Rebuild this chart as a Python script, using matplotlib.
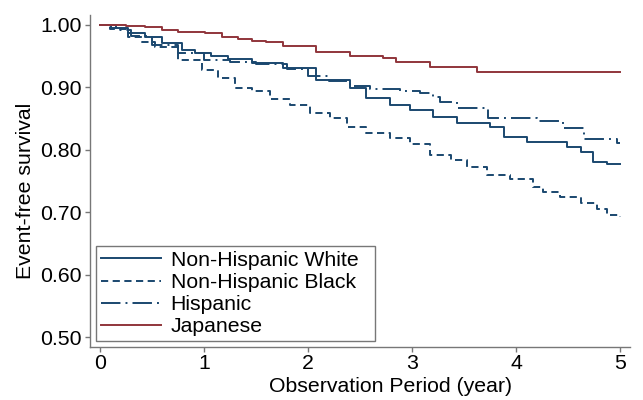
# module imports
import matplotlib
matplotlib.use("Agg")
import matplotlib.pyplot as plt

# font
plt.rcParams["font.family"] = ["Liberation Sans", "DejaVu Sans"]

# data (step points)
white_t = [0, 0.11, 0.27, 0.43, 0.6, 0.79, 0.91, 1.07, 1.23, 1.46, 1.76, 2.08, 2.4, 2.56,
           2.79, 2.98, 3.2, 3.43, 3.75, 3.88, 4.1, 4.49, 4.62, 4.74, 4.87, 5.0]
white_s = [1.0, 0.995, 0.987, 0.981, 0.971, 0.960, 0.955, 0.950, 0.945, 0.939, 0.931, 0.912,
           0.899, 0.883, 0.872, 0.864, 0.853, 0.843, 0.836, 0.821, 0.812, 0.805, 0.797, 0.780,
           0.778, 0.777]

black_t = [0, 0.1, 0.27, 0.4, 0.53, 0.75, 0.98, 1.13, 1.3, 1.46, 1.63, 1.83, 2.02, 2.21,
           2.37, 2.56, 2.79, 2.98, 3.17, 3.37, 3.53, 3.72, 3.94, 4.16, 4.26, 4.42, 4.62,
           4.78, 4.87, 5.0]
black_s = [1.0, 0.993, 0.981, 0.973, 0.965, 0.944, 0.928, 0.915, 0.899, 0.894, 0.881, 0.872,
           0.859, 0.851, 0.837, 0.827, 0.819, 0.809, 0.792, 0.784, 0.773, 0.760, 0.753,
           0.741, 0.733, 0.724, 0.715, 0.705, 0.695, 0.692]

hisp_t = [0, 0.15, 0.3, 0.5, 0.75, 1.0, 1.25, 1.5, 1.8, 2.0, 2.2, 2.4, 2.6, 2.88, 3.08,
          3.2, 3.27, 3.43, 3.73, 4.2, 4.45, 4.65, 4.97, 5.0]
hisp_s = [1.0, 0.992, 0.983, 0.968, 0.955, 0.944, 0.940, 0.938, 0.930, 0.918, 0.910, 0.902,
          0.897, 0.894, 0.891, 0.885, 0.877, 0.867, 0.851, 0.846, 0.835, 0.817, 0.811, 0.811]

jap_t = [0, 0.25, 0.43, 0.6, 0.75, 1.01, 1.17, 1.33, 1.46, 1.6, 1.76, 2.08, 2.4, 2.72,
         2.85, 3.17, 3.62, 5.0]
jap_s = [1.0, 0.999, 0.997, 0.992, 0.989, 0.987, 0.981, 0.978, 0.975, 0.973, 0.966, 0.957,
         0.950, 0.947, 0.940, 0.933, 0.925, 0.925]

labels = ["Non-Hispanic White", "Non-Hispanic Black", "Hispanic", "Japanese"]
x_ticks = [0, 1, 2, 3, 4, 5]
y_ticks = [0.50, 0.60, 0.70, 0.80, 0.90, 1.00]

# colours
NAVY = "#1a476f"
MAROON = "#90353b"
GRAY = "#777777"
FS = 15.3

# plot
fig = plt.figure(figsize=(6.43, 4.0), dpi=100)
ax = fig.add_axes([0.14, 0.1325, 0.84, 0.83])

ax.step(white_t, white_s, where="post", color=NAVY, lw=1.4, label=labels[0])
ax.step(black_t, black_s, where="post", color=NAVY, lw=1.4,
        linestyle=(0, (3.7, 2.3)), label=labels[1])
ax.step(hisp_t, hisp_s, where="post", color=NAVY, lw=1.4,
        linestyle=(0, (10, 2.6, 1.0, 2.6)), label=labels[2])
ax.step(jap_t, jap_s, where="post", color=MAROON, lw=1.4, label=labels[3])

# axes styling
ax.set_xlim(-0.096, 5.096)
ax.set_ylim(0.484, 1.016)
ax.set_xticks(x_ticks)
ax.set_yticks(y_ticks)
ax.set_yticklabels([f"{v:.2f}" for v in y_ticks])
for side in ["top", "right"]:
    ax.spines[side].set_visible(False)
for side in ["left", "bottom"]:
    ax.spines[side].set_color(GRAY)
    ax.spines[side].set_linewidth(1.0)
ax.tick_params(axis="both", colors=GRAY, labelcolor="black", labelsize=FS,
               length=3.6, width=1.0, direction="out")
ax.tick_params(axis="y", pad=2.2)
ax.tick_params(axis="x", pad=1.5)
ax.set_xlabel("Observation Period (year)", fontsize=FS)
ax.set_ylabel("Event-free survival", fontsize=FS)
ax.xaxis.set_label_coords(0.556, -0.09)
ax.yaxis.set_label_coords(-0.102, 0.47)

# legend
leg = ax.legend(loc="lower left", bbox_to_anchor=(0.011, 0.018, 0.517, 0.3),
                mode="expand", fontsize=FS, handlelength=2.82, handletextpad=0.47,
                labelspacing=0.15, borderpad=0.22, borderaxespad=0,
                fancybox=False, framealpha=1)
leg.get_frame().set_edgecolor(GRAY)
leg.get_frame().set_linewidth(1.0)

plt.savefig("out.png", dpi=100)
